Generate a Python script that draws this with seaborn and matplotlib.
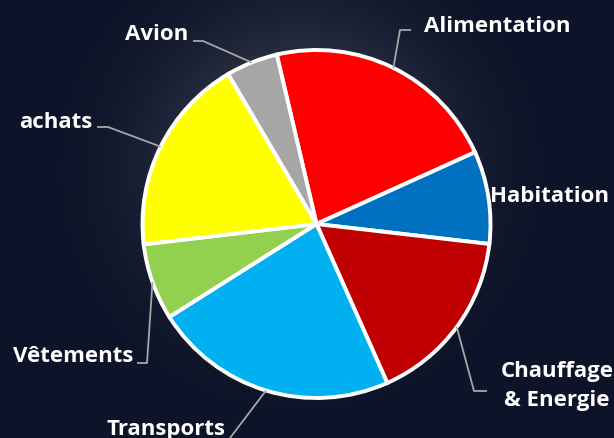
import numpy as np
import matplotlib
matplotlib.use("Agg")
import matplotlib.pyplot as plt
import seaborn as sns

# ---- data ----
categories = ["Alimentation", "Habitation", "Chauffage\n& Energie", "Transports",
              "Vêtements", "achats", "Avion"]
values = [21.9, 8.6, 16.5, 22.7, 7.1, 18.4, 4.8]
colors = ["#ff0000", "#0070c0", "#c00000", "#00b0f0", "#92d050", "#ffff00", "#a6a6a6"]

sns.set_theme(style="dark")
plt.rcParams['font.family'] = ['Open Sans', 'DejaVu Sans']

W, H = 614, 439
fig = plt.figure(figsize=(W / 100, H / 100), dpi=100)
ax = fig.add_axes([0, 0, 1, 1])
ax.set_xlim(0, W)
ax.set_ylim(0, H)
ax.axis("off")

# background: navy with soft glow behind the pie
yy, xx = np.mgrid[0:H, 0:W]
d = np.sqrt((xx - 300) ** 2 + ((H - yy) - (H - 170)) ** 2)
t = np.clip(1 - d / 270, 0, 1) ** 2.0
base = np.array([13, 19, 40]) / 255
glow = np.array([95, 100, 112]) / 255
img = base[None, None, :] * (1 - t[..., None]) + glow[None, None, :] * t[..., None]
ax.imshow(img, extent=(0, W, 0, H), origin="upper", zorder=0, aspect="auto")

cx, cy, R = 316.5, H - 225, 174
wedges, _ = ax.pie(values, colors=colors, startangle=103.2, counterclock=False,
                   center=(cx, cy), radius=R, frame=True,
                   wedgeprops=dict(edgecolor="white", linewidth=2.8))
ax.set_xlim(0, W)
ax.set_ylim(0, H)
ax.set_aspect("equal")
ax.axis("off")

# label layout (pixel coords, y down): elbow points and text placement
layout = {
    "Alimentation": dict(path=[(400, 31), (411, 31)], xy=(424, 26), ha="left"),
    "Habitation": dict(path=None, xy=(490, 197), ha="left"),
    "Chauffage\n& Energie": dict(path=[(474, 392), (487, 392)], xy=(557, 386), ha="center"),
    "Transports": dict(path=[(230, 439)], xy=(166, 430), ha="center"),
    "Vêtements": dict(path=[(147, 364), (137, 364)], xy=(133, 357), ha="right"),
    "achats": dict(path=[(108, 128), (97, 128)], xy=(92, 123), ha="right"),
    "Avion": dict(path=[(203, 42), (193, 42)], xy=(188, 34), ha="right"),
}

for w, lab in zip(wedges, categories):
    mid = np.deg2rad((w.theta1 + w.theta2) / 2)
    ax_, ay_ = cx + R * np.cos(mid), cy + R * np.sin(mid)
    L = layout[lab]
    if L["path"]:
        xs = [ax_] + [p[0] for p in L["path"]]
        ys = [ay_] + [H - p[1] for p in L["path"]]
        ax.plot(xs, ys, color="#a6a6a6", lw=1.3, zorder=1, solid_capstyle="butt")
    ax.text(L["xy"][0], H - L["xy"][1], lab, color="white", fontsize=16,
            fontweight="bold", ha=L["ha"], va="center", linespacing=1.45,
            multialignment="center", zorder=5)

fig.savefig("out.png", dpi=100)
